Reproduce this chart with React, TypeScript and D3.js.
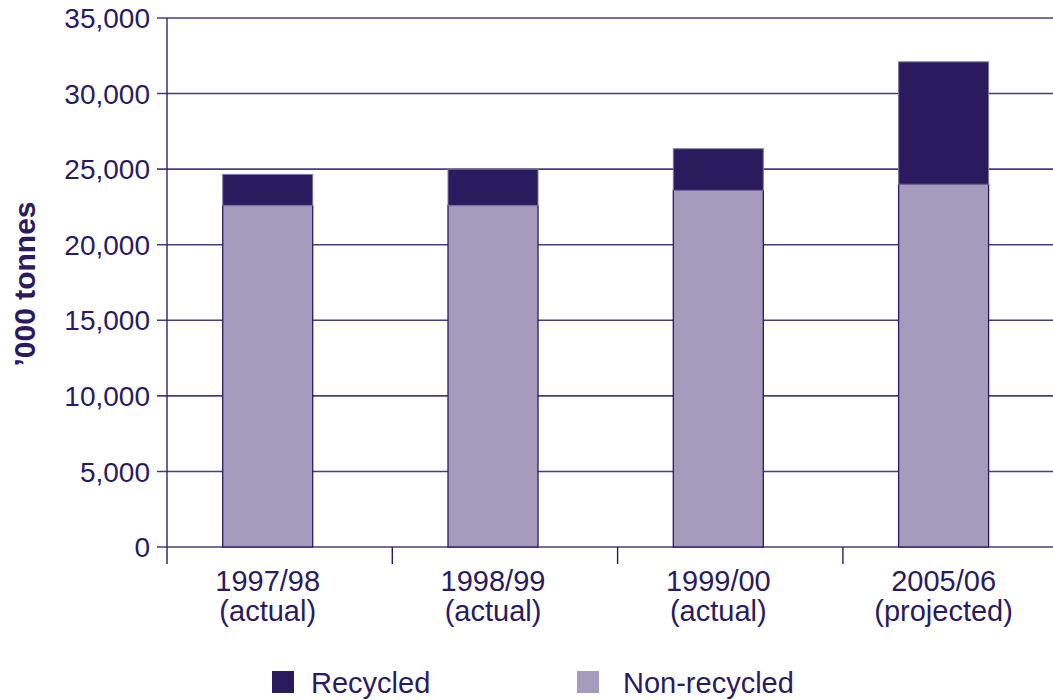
import React from "react";
import * as d3 from "d3";

const categories = ["1997/98", "1998/99", "1999/00", "2005/06"];
const subLabels = ["(actual)", "(actual)", "(actual)", "(projected)"];
const nonRecycled = [22600, 22600, 23600, 24000];
const recycled = [2050, 2400, 2750, 8100];
const yTicks = [0, 5000, 10000, 15000, 20000, 25000, 30000, 35000];
const seriesNames = ["Recycled", "Non-recycled"];

const DARK = "#2a1b5f";
const LIGHT = "#a59bbd";
const FONT = "'Liberation Sans', Arial, Helvetica, sans-serif";

export default function App() {
  const W = 1053, H = 700;
  const left = 167, bottom = 547, top = 18;
  const y = d3.scaleLinear().domain([0, 35000]).range([bottom, top]);
  const x = d3.scaleBand<string>().domain(categories).range([left, left + 4 * 225.3]).padding(0);
  const step = x.step();
  const barW = 90;
  const center = (c: string) => (x(c) as number) + step * 0.447;
  const fmt = d3.format(",");

  return (
    <svg width={W} height={H} style={{ position: "absolute", left: 0, top: 0, background: "#fff" }} fontFamily={FONT}>
      {yTicks.map((t) => (
        <g key={t}>
          <line x1={157} x2={W} y1={y(t)} y2={y(t)} stroke={DARK} strokeWidth={1.6} strokeOpacity={0.85} />
          <text x={150} y={y(t)} dy="0.36em" textAnchor="end" fontSize={28} fill={DARK}>
            {fmt(t)}
          </text>
        </g>
      ))}
      <line x1={left} x2={left} y1={top} y2={bottom} stroke={DARK} strokeWidth={1.6} strokeOpacity={0.85} />
      {categories.map((c) => (
        <line key={c} x1={x(c) as number} x2={x(c) as number} y1={bottom} y2={bottom + 17} stroke={DARK} strokeWidth={1.4} />
      ))}
      {categories.map((c, i) => {
        const cx = center(c);
        return (
          <g key={c}>
            <rect
              x={cx - barW / 2}
              y={y(nonRecycled[i])}
              width={barW}
              height={y(0) - y(nonRecycled[i])}
              fill={LIGHT}
              stroke={DARK}
              strokeWidth={1.3}
            />
            <rect
              x={cx - barW / 2}
              y={y(nonRecycled[i] + recycled[i])}
              width={barW}
              height={y(nonRecycled[i]) - y(nonRecycled[i] + recycled[i])}
              fill={DARK}
              stroke="#7f77a0"
              strokeWidth={1}
            />
          </g>
        );
      })}
      {categories.map((c, i) => (
        <g key={c}>
          <text x={center(c)} y={591} textAnchor="middle" fontSize={29} fill={DARK}>{c}</text>
          <text x={center(c)} y={621} textAnchor="middle" fontSize={29} fill={DARK}>{subLabels[i]}</text>
        </g>
      ))}
      <text
        transform={`translate(35,${284}) rotate(-90)`}
        textAnchor="middle"
        fontSize={30}
        fontWeight="bold"
        fill={DARK}
      >
        ’000 tonnes
      </text>
      <rect x={272} y={671} width={22} height={22} fill={DARK} />
      <text x={311} y={693} fontSize={29} fill={DARK}>{seriesNames[0]}</text>
      <rect x={577} y={671} width={22} height={22} fill={LIGHT} />
      <text x={623} y={693} fontSize={29} fill={DARK}>{seriesNames[1]}</text>
    </svg>
  );
}
